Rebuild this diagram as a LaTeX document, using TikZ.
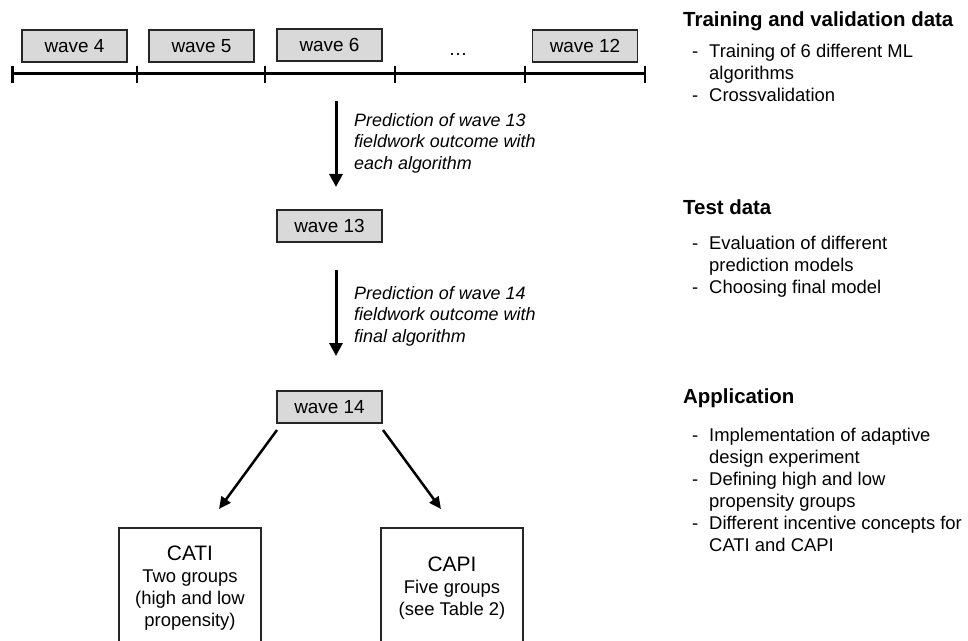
\documentclass[tikz,border=0pt]{standalone}
\usepackage{fontspec}
\setmainfont{Liberation Sans}
\usetikzlibrary{arrows.meta}
\begin{document}
\begin{tikzpicture}[x=1bp,y=-1bp,
    wave/.style={draw=black!85, fill=black!15, line width=1.4bp, minimum width=105bp,
      minimum height=32bp, inner sep=0pt, font=\fontsize{19}{22}\selectfont},
    mode/.style={draw=black!85, line width=1.4bp, minimum width=142bp, minimum height=120bp,
      align=center, inner sep=0pt, font=\fontsize{18.5}{22}\selectfont},
    predlabel/.style={anchor=west, align=left, inner sep=0pt, font=\fontsize{18}{21.5}\selectfont\itshape},
    head/.style={anchor=west, inner sep=0pt, font=\fontsize{20.5}{22}\selectfont\bfseries},
    items/.style={anchor=north west, inner sep=0pt, font=\fontsize{18.5}{22}\selectfont},
    bigarrow/.style={line width=3bp, -{Triangle[width=13bp,length=13bp]}},
    splitarrow/.style={line width=2.5bp, -{Triangle[width=11bp,length=12bp]}}]
    \clip (0,0) rectangle (968,641);

    % timeline
    \coordinate (tl) at (12.7,74);
    \coordinate (tr) at (645,74);
    \draw[line width=3bp] (tl) -- (tr);
    \foreach \x in {12.7,137,265,395,525,645}
        \draw[line width=2.5bp] (\x,66) -- (\x,83);

    \node[wave] (w4) at (74.5,46) {wave 4};
    \node[wave] (w5) at (201.5,46) {wave 5};
    \node[wave] (w6) at (329.5,45) {wave 6};
    \node[inner sep=0pt, font=\fontsize{19}{22}\selectfont] (dots) at (458,54) {…};
    \node[wave] (w12) at (585,46) {wave 12};

    \coordinate (a1s) at (336,101);
    \coordinate (a1e) at (336,187);
    \draw[bigarrow] (a1s) -- (a1e);
    \node[predlabel] (p13) at (354,143) {Prediction of wave 13\\fieldwork outcome with\\each algorithm};

    \node[wave] (w13) at (329.5,226) {wave 13};

    \coordinate (a2s) at (336,270);
    \coordinate (a2e) at (336,356);
    \draw[bigarrow] (a2s) -- (a2e);
    \node[predlabel] (p14) at (354,316) {Prediction of wave 14\\fieldwork outcome with\\final algorithm};

    \node[wave] (w14) at (329.5,407) {wave 14};

    \coordinate (d1s) at (277,430);
    \coordinate (d1e) at (219,509);
    \coordinate (d2s) at (383,430);
    \coordinate (d2e) at (441,509);
    \draw[splitarrow] (d1s) -- (d1e);
    \draw[splitarrow] (d2s) -- (d2e);

    \node[mode] (cati) at (190,588) {{\fontsize{21}{24}\selectfont CATI}\\Two groups\\(high and low\\propensity)};
    \node[mode] (capi) at (452,588) {{\fontsize{21}{24}\selectfont CAPI}\\Five groups\\(see Table 2)};

    % right column
    \node[head] (trainhead) at (683,21) {Training and validation data};
    \node[items] (trainlist) at (692,42) {\begin{tabular}{@{}p{17bp}@{}l@{}}
        -&Training of 6 different ML\\&algorithms\\-&Crossvalidation\end{tabular}};
    \node[head] (testhead) at (683,207) {Test data};
    \node[items] (testlist) at (692,234) {\begin{tabular}{@{}p{17bp}@{}l@{}}
        -&Evaluation of different\\&prediction models\\-&Choosing final model\end{tabular}};
    \node[head] (apphead) at (683,398) {Application};
    \node[items] (applist) at (692,426) {\begin{tabular}{@{}p{17bp}@{}l@{}}
        -&Implementation of adaptive\\&design experiment\\-&Defining high and low\\&propensity groups\\
        -&Different incentive concepts for\\&CATI and CAPI\end{tabular}};
\end{tikzpicture}
\end{document}
